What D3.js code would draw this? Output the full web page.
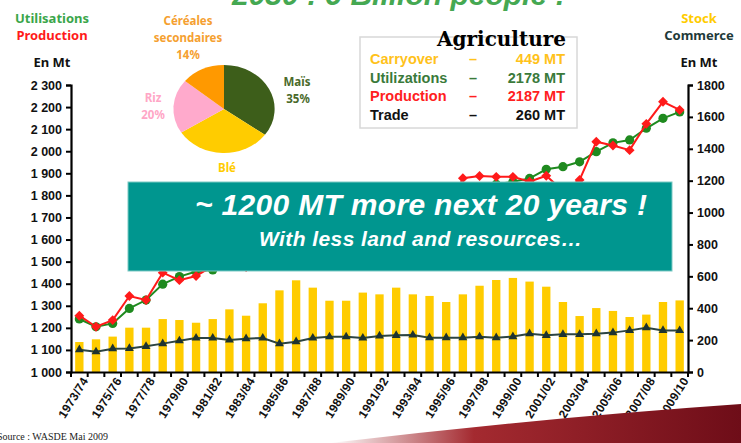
<!DOCTYPE html>
<html lang="fr">
<head>
<meta charset="UTF-8">
<title>Agriculture - 2030 : 9 Billion people !</title>
<script src="https://d3js.org/d3.v7.min.js"></script>
<style>
  body { margin: 0; background: #fff; }
  svg { display: block; }
  .bold { font-family: Arial, "Liberation Sans", sans-serif; font-weight: bold; }
  .hand { font-family: "Noto Sans", Lato, sans-serif; font-weight: bold; }
</style>
</head>
<body>
<svg id="chart" width="741" height="443"></svg>
<script>
// campagnes
const years = ["1973/74","1974/75","1975/76","1976/77","1977/78","1978/79","1979/80","1980/81",
  "1981/82","1982/83","1983/84","1984/85","1985/86","1986/87","1987/88","1988/89","1989/90",
  "1990/91","1991/92","1992/93","1993/94","1994/95","1995/96","1996/97","1997/98","1998/99",
  "1999/00","2000/01","2001/02","2002/03","2003/04","2004/05","2005/06","2006/07","2007/08",
  "2008/09","2009/10"];

// stocks (axe droit, Mt)
const stocks = [188,205,222,278,278,332,326,309,332,393,353,431,512,575,529,447,447,498,487,
  529,487,477,439,487,541,577,590,567,535,439,351,401,383,345,360,439,449];
// commerce (axe droit, Mt)
const trade = [140,127,146,148,161,178,196,213,213,201,209,213,178,190,213,221,221,213,226,
  230,232,215,215,215,221,215,222,240,230,236,236,240,247,261,278,261,260];
// utilisations (axe gauche, Mt)
const utilisations = [1240,1205,1220,1288,1326,1398,1432,1455,1462,1490,1520,1560,1585,1620,
  1640,1640,1680,1710,1720,1740,1750,1770,1760,1830,1840,1850,1862,1877,1918,1930,1952,1998,
  2038,2051,2104,2149,2178];
// production (axe gauche, Mt)
const production = [1255,1205,1235,1344,1326,1450,1416,1435,1480,1540,1475,1640,1660,1670,
  1600,1550,1680,1770,1710,1790,1715,1755,1710,1878,1888,1884,1884,1862,1889,1820,1870,2043,
  2026,2005,2124,2224,2187];

const leftTicks = [1000,1100,1200,1300,1400,1500,1600,1700,1800,1900,2000,2100,2200,2300];
const rightTicks = [0,200,400,600,800,1000,1200,1400,1600,1800];

// camembert
const pieNames = ["Maïs","Blé","Riz","Céréales secondaires"];
const pieValues = [35,31,20,14];
const pieColors = ["#3d5e1a","#ffcc00","#ffaacc","#ff9900"];

// encart
const legendNames = ["Carryover","Utilizations","Production","Trade"];
const legendValues = ["449 MT","2178 MT","2187 MT","260 MT"];
const legendColors = ["#ffc21a","#3a7a3a","#ff2020","#111"];

const svg = d3.select("#chart");
const xLeft = 71, xRight = 688, yBottom = 372, yTop = 85;

const x = d3.scaleBand().domain(years).range([xLeft, xRight]).paddingInner(0.5).paddingOuter(0.25);
const yL = d3.scaleLinear().domain([1000, 2300]).range([yBottom, yTop]);
const yR = d3.scaleLinear().domain([0, 1800]).range([yBottom, yTop]);
const cx = d => x(d) + x.bandwidth() / 2;

// titre coupé en haut
svg.append("text").attr("x", 232).attr("y", 5)
  .attr("font-family", "Arial, sans-serif").attr("font-weight", "bold").attr("font-style", "italic")
  .attr("font-size", 30).attr("fill", "#45a852").text("2030 : 9 Billion people !");

// barres
svg.selectAll(".bar").data(years).enter().append("rect")
  .attr("x", d => x(d)).attr("y", (d, i) => yR(stocks[i]))
  .attr("width", x.bandwidth()).attr("height", (d, i) => yBottom - yR(stocks[i]))
  .attr("fill", "#ffcc00");

// commerce
svg.append("path").datum(trade)
  .attr("fill", "none").attr("stroke", "#2c4440").attr("stroke-width", 2)
  .attr("d", d3.line().x((d, i) => cx(years[i])).y(d => yR(d)));
svg.selectAll(".tri").data(trade).enter().append("path")
  .attr("transform", (d, i) => `translate(${cx(years[i])},${yR(d)})`)
  .attr("d", d3.symbol(d3.symbolTriangle, 34)).attr("fill", "#1e3330");

// utilisations
svg.append("path").datum(utilisations)
  .attr("fill", "none").attr("stroke", "#1f8a1f").attr("stroke-width", 2)
  .attr("d", d3.line().x((d, i) => cx(years[i])).y(d => yL(d)));
svg.selectAll(".circ").data(utilisations).enter().append("circle")
  .attr("cx", (d, i) => cx(years[i])).attr("cy", d => yL(d)).attr("r", 4.6).attr("fill", "#1f8a1f");

// production
svg.append("path").datum(production)
  .attr("fill", "none").attr("stroke", "#ff1a1a").attr("stroke-width", 2)
  .attr("d", d3.line().x((d, i) => cx(years[i])).y(d => yL(d)));
svg.selectAll(".dia").data(production).enter().append("path")
  .attr("transform", (d, i) => `translate(${cx(years[i])},${yL(d)})`)
  .attr("d", d3.symbol(d3.symbolDiamond2, 62)).attr("fill", "#ff1a1a");

// axes
const fmt = d => d3.format(",")(d).replace(",", " ");
const gL = svg.append("g").attr("transform", `translate(${xLeft},0)`)
  .call(d3.axisLeft(yL).tickValues(leftTicks).tickFormat(fmt).tickSize(5).tickPadding(4));
const gR = svg.append("g").attr("transform", `translate(${xRight},0)`)
  .call(d3.axisRight(yR).tickValues(rightTicks).tickFormat(d3.format("d")).tickSize(5).tickPadding(4));
const gB = svg.append("g").attr("transform", `translate(0,${yBottom})`)
  .call(d3.axisBottom(x).tickValues(years.filter((d, i) => i % 2 === 0)).tickSize(0).tickPadding(12));
[gL, gR, gB].forEach(g => {
  g.select(".domain").attr("stroke", "#000").attr("stroke-width", 2.2);
  g.selectAll(".tick line").attr("stroke", "#000").attr("stroke-width", 2);
  g.selectAll("text").attr("class", "bold").attr("font-size", 12.5).attr("fill", "#111");
});
gB.selectAll("text").attr("font-size", 12).attr("letter-spacing", 0.3).attr("text-anchor", "end")
  .attr("transform", "rotate(-58)").attr("dx", "-0.2em").attr("dy", "0.05em");
// graduations entre catégories
gB.selectAll(".sep").data(d3.range(years.length + 1)).enter().append("line")
  .attr("x1", i => xLeft + x.step() * i).attr("x2", i => xLeft + x.step() * i)
  .attr("y1", 0).attr("y2", 5).attr("stroke", "#000").attr("stroke-width", 2);

// titres des axes
const lab = (t, xx, yy, c, s) => svg.append("text").attr("class", "hand").attr("x", xx).attr("y", yy)
  .attr("text-anchor", "middle").attr("font-size", s || 13).attr("fill", c).text(t);
lab("Utilisations", 52, 23, "#3aa64a");
lab("Production", 52, 40, "#ff1a1a");
lab("En Mt", 52, 67, "#111");
lab("Stock", 699, 23, "#ffcc00");
lab("Commerce", 699, 40, "#1e3a3a");
lab("En Mt", 699, 67, "#111");

// camembert
const pieG = svg.append("g").attr("transform", "translate(224,109) scale(1.15,1)");
const arcs = d3.pie().sort(null)(pieValues);
pieG.selectAll("path").data(arcs).enter().append("path")
  .attr("d", d3.arc().innerRadius(0).outerRadius(44))
  .attr("fill", (d, i) => pieColors[i]);
const pl = (t, xx, yy, c) => svg.append("text").attr("class", "hand").attr("x", xx).attr("y", yy)
  .attr("text-anchor", "middle").attr("font-size", 11.5).attr("font-weight", "normal")
  .attr("fill", c).text(t);
pl("Céréales", 188, 25, "#f5a030");
pl("secondaires", 188, 42, "#f5a030");
pl(pieValues[3] + "%", 188, 59, "#f5a030");
pl("Maïs", 297, 86, "#4a6a2a");
pl(pieValues[0] + "%", 298, 103, "#4a6a2a");
pl("Riz", 153, 102, "#ffa6c6");
pl(pieValues[2] + "%", 153, 119, "#ffa6c6");
pl("Blé", 227, 172, "#ffcc00");

// encart Agriculture
svg.append("rect").attr("x", 360).attr("y", 37).attr("width", 217).attr("height", 91)
  .attr("fill", "#fff").attr("stroke", "#d8d8d8").attr("stroke-width", 1.5);
svg.append("text").attr("x", 566).attr("y", 46).attr("text-anchor", "end")
  .attr("font-family", "'DejaVu Serif', 'Liberation Serif', serif").attr("font-weight", "bold")
  .attr("font-size", 20).attr("fill", "#000").text("Agriculture");
legendNames.forEach((n, i) => {
  const yy = 64 + i * 18.6;
  const g = svg.append("g").attr("class", "bold").attr("font-size", 14.5).attr("fill", legendColors[i]);
  g.append("text").attr("x", 370).attr("y", yy).text(n);
  g.append("text").attr("x", 473).attr("y", yy).attr("text-anchor", "middle").text("–");
  g.append("text").attr("x", 565).attr("y", yy).attr("text-anchor", "end").text(legendValues[i]);
});

// bandeau
svg.append("rect").attr("x", 128).attr("y", 182).attr("width", 544).attr("height", 89)
  .attr("fill", "#00968f").attr("stroke", "#7cc9c4").attr("stroke-width", 1);
svg.append("text").attr("x", 195).attr("y", 215).attr("class", "bold").attr("font-style", "italic")
  .attr("font-size", 30).attr("textLength", 452).attr("fill", "#fff")
  .text("~ 1200 MT more next 20 years !");
svg.append("text").attr("x", 259).attr("y", 246).attr("class", "bold").attr("font-style", "italic")
  .attr("font-size", 21).attr("textLength", 323).attr("fill", "#fff")
  .text("With less land and resources…");

// source + bandeau décoratif
const defs = svg.append("defs");
const grad = defs.append("linearGradient").attr("id", "sw").attr("x1", 0).attr("x2", 1);
grad.append("stop").attr("offset", 0).attr("stop-color", "#fff");
grad.append("stop").attr("offset", 0.35).attr("stop-color", "#a42a30");
grad.append("stop").attr("offset", 1).attr("stop-color", "#6e0d18");
svg.append("path").attr("d", "M 330 443 Q 540 418 741 404 L 741 443 Z").attr("fill", "url(#sw)");
svg.append("text").attr("x", -3).attr("y", 440)
  .attr("font-family", "'Liberation Serif', serif").attr("font-size", 10).attr("fill", "#222")
  .text("Source : WASDE Mai 2009");
</script>
</body>
</html>
